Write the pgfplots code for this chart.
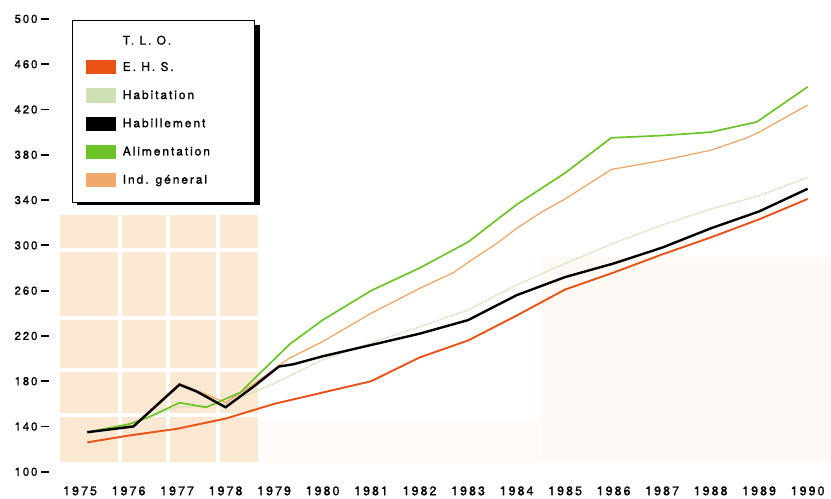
\documentclass[border=0pt]{standalone}
\usepackage{fontspec}
\setmainfont{TeX Gyre Heros}
\newfontfamily\lsfont[LetterSpace=16,FakeBold=1]{TeX Gyre Heros}
\usepackage{pgfplots}
\pgfplotsset{compat=1.18}

\definecolor{ehs}{RGB}{234,82,22}
\definecolor{habit}{RGB}{206,224,180}
\definecolor{alim}{RGB}{108,196,40}
\definecolor{indg}{RGB}{240,168,108}
\definecolor{peach}{RGB}{251,232,210}

% Habillement
\pgfplotstableread{
x y
1975.15 135
1976.1 140
1977.05 177
1977.4 171
1978.0 157
1978.6 176
1979.1 193
1979.4 195
1980.0 202
1981.0 212
1982.0 222
1983.0 234
1984.0 256
1985.0 272
1986.0 284
1987.0 298
1988.0 315
1989.0 330
1990.0 350
}\habill

% E.H.S.
\pgfplotstableread{
x y
1975.15 126
1976.0 132
1977.0 138
1978.0 147
1979.0 160
1980.0 170
1981.0 180
1982.0 201
1983.0 216
1984.0 238
1985.0 261
1986.0 276
1987.0 292
1988.0 307
1989.0 323
1990.0 341
}\ehsdata

% Ind. general
\pgfplotstableread{
x y
1975.15 135
1976.1 141
1977.05 178
1977.4 172
1978.0 161
1978.6 178
1979.3 200
1980.0 215
1981.0 240
1982.0 262
1982.7 276
1983.0 285
1983.6 302
1984.0 315
1984.5 329
1985.0 341
1985.95 367
1987.0 375
1988.0 384
1988.75 395
1989.0 400
1990.0 424
}\indgen

% Alimentation
\pgfplotstableread{
x y
1975.15 135
1976.0 142
1976.4 148
1977.05 161
1977.6 157
1978.3 170
1979.33 213
1980.0 234
1981.0 260
1982.0 280
1983.0 303
1984.0 336
1985.0 364
1985.95 395
1987.0 397
1988.0 400
1988.95 409
1990.0 440
}\alimdata

% Habitation
\pgfplotstableread{
x y
1975.15 134
1976.0 142
1977.0 157
1977.6 158
1978.0 160
1979.0 178
1980.0 199
1981.0 214
1982.0 228
1983.0 243
1984.0 265
1985.0 284
1986.0 302
1987.0 318
1988.0 332
1989.0 344
1990.0 360
}\habitdata

\begin{document}
\begin{tikzpicture}
\begin{axis}[
    scale only axis,
    width=779pt, height=458.5pt,
    xmin=1974.36, xmax=1990.42,
    ymin=100, ymax=505,
    clip=false,
    axis line style={draw=none},
    xtick={1975,...,1990},
    ytick={100,140,...,500},
    xtick pos=bottom, ytick pos=left,
    tick align=outside,
    major tick length=8pt,
    x tick style={draw=none},
    y tick style={black, line width=1.8pt},
    yticklabel style={font=\lsfont\fontsize{11.5}{13}\selectfont},
    xticklabel style={font=\lsfont\fontsize{12.5}{14}\selectfont, yshift=-3pt},
    /pgf/number format/assume math mode=true,
    /pgf/number format/1000 sep={},
    legend cell align=left,
    legend image code/.code={\fill[#1] (0pt,-6.5pt) rectangle (29pt,6.5pt);},
    legend style={
        at={(axis cs:1974.834,499)}, anchor=north west,
        draw=black, line width=1.2pt, fill=white,
        inner xsep=13pt, inner ysep=15pt,
        row sep=14pt, column sep=7pt,
        font=\lsfont\fontsize{12}{14}\selectfont,
        nodes={inner sep=0pt},
    },
]
% faint printed background tiles
\fill[peach] (axis cs:1974.59,108.6) rectangle (axis cs:1978.67,326.8);
\fill[peach!15] (axis cs:1978.67,108.6) rectangle (axis cs:1984.5,145);
\fill[peach!25] (axis cs:1984.5,108.6) rectangle (axis cs:1990.48,290);
\draw[white, line width=4pt] (axis cs:1975.82,108.6) -- (axis cs:1975.82,326.8);
\draw[white, line width=4pt] (axis cs:1976.81,108.6) -- (axis cs:1976.81,326.8);
\draw[white, line width=4pt] (axis cs:1977.84,108.6) -- (axis cs:1977.84,326.8);
\draw[white, line width=4pt] (axis cs:1974.59,295.8) -- (axis cs:1978.67,295.8);
\draw[white, line width=4pt] (axis cs:1974.59,235.9) -- (axis cs:1978.67,235.9);
\draw[white, line width=4pt] (axis cs:1974.59,189.8) -- (axis cs:1978.67,189.8);
\draw[white, line width=4pt] (axis cs:1974.59,150.1) -- (axis cs:1978.67,150.1);
% legend shadow
\fill[black] (axis cs:1974.94,494.6) rectangle (axis cs:1978.71,335.6);

\addplot[habit, line width=1.5pt, densely dotted, forget plot] table {\habitdata};
\addplot[indg, line width=1.3pt, forget plot] table {\indgen};
\addplot[alim, line width=1.7pt, forget plot] table {\alimdata};
\addplot[ehs, line width=1.9pt, forget plot] table {\ehsdata};
\addplot[black, line width=2.4pt, forget plot] table {\habill};

\addlegendimage{empty legend}
\addlegendentry{\makebox[119pt][l]{T. L. O.}}
\addlegendimage{ehs}
\addlegendentry{E. H. S.}
\addlegendimage{habit}
\addlegendentry{Habitation}
\addlegendimage{black}
\addlegendentry{Habillement}
\addlegendimage{alim}
\addlegendentry{Alimentation}
\addlegendimage{indg}
\addlegendentry{Ind. géneral}

\path (axis cs:1973.35,76.8) rectangle (axis cs:1990.48,516.7);
\end{axis}
\end{tikzpicture}
\end{document}
